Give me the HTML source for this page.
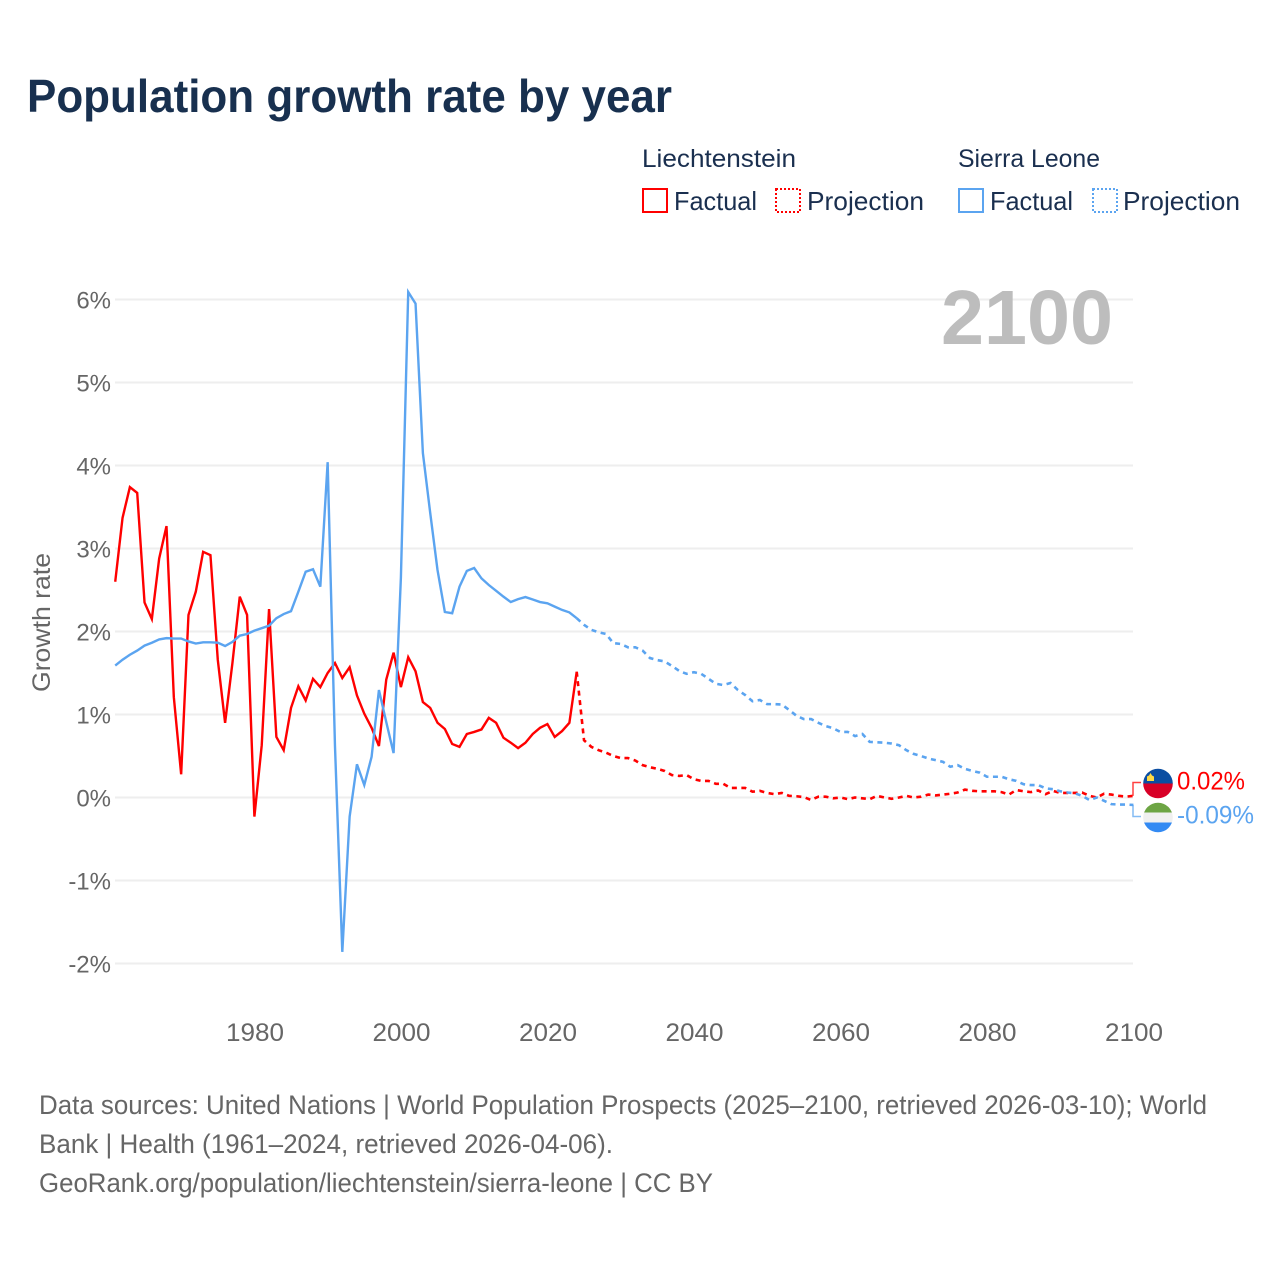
<!DOCTYPE html>
<html lang="en">
<head>
<meta charset="utf-8">
<title>Population growth rate by year</title>
<style>
  html, body { margin: 0; padding: 0; background: #fff; }
  svg { display: block; font-family: "Liberation Sans", sans-serif; }
</style>
</head>
<body>
<svg id="chart" width="1280" height="1280" viewBox="0 0 1280 1280" xmlns="http://www.w3.org/2000/svg">
  <rect x="0" y="0" width="1280" height="1280" fill="#ffffff"/>
  <text x="27" y="112" font-size="46" font-weight="700" fill="#18304f" textLength="645" lengthAdjust="spacingAndGlyphs">Population growth rate by year</text>

  <g>
    <text x="642" y="167" font-size="25" fill="#1a2f4f" textLength="154" lengthAdjust="spacingAndGlyphs">Liechtenstein</text>
    <rect x="643" y="189" width="24" height="23" fill="none" stroke="#ff0000" stroke-width="2"/>
    <text x="674" y="210" font-size="26" fill="#1a2f4f" textLength="83" lengthAdjust="spacingAndGlyphs">Factual</text>
    <rect x="776" y="189" width="24" height="23" fill="none" stroke="#ff0000" stroke-width="2" stroke-dasharray="2 2"/>
    <text x="807" y="210" font-size="26" fill="#1a2f4f" textLength="117" lengthAdjust="spacingAndGlyphs">Projection</text>

    <text x="958" y="167" font-size="25" fill="#1a2f4f" textLength="142" lengthAdjust="spacingAndGlyphs">Sierra Leone</text>
    <rect x="959" y="189" width="24" height="23" fill="none" stroke="#5ba4f0" stroke-width="2"/>
    <text x="990" y="210" font-size="26" fill="#1a2f4f" textLength="83" lengthAdjust="spacingAndGlyphs">Factual</text>
    <rect x="1093" y="189" width="24" height="23" fill="none" stroke="#5ba4f0" stroke-width="2" stroke-dasharray="2 2"/>
    <text x="1123" y="210" font-size="26" fill="#1a2f4f" textLength="117" lengthAdjust="spacingAndGlyphs">Projection</text>
  </g>

  <g id="grid"></g>
  <g id="y-ticks"></g>
  <g id="x-ticks"></g>

  <text transform="translate(50 622.5) rotate(-90)" text-anchor="middle" font-size="25" fill="#666666" textLength="139" lengthAdjust="spacingAndGlyphs">Growth rate</text>

  <text x="941" y="344" font-size="77" font-weight="700" fill="#bdbdbd" textLength="172" lengthAdjust="spacingAndGlyphs">2100</text>

  <g id="series"></g>
  <g id="end-labels"></g>

  <g font-size="27" fill="#666666">
    <text x="39" y="1114" textLength="1168" lengthAdjust="spacingAndGlyphs">Data sources: United Nations | World Population Prospects (2025–2100, retrieved 2026-03-10); World</text>
    <text x="39" y="1153" textLength="574" lengthAdjust="spacingAndGlyphs">Bank | Health (1961–2024, retrieved 2026-04-06).</text>
    <text x="39" y="1192" textLength="674" lengthAdjust="spacingAndGlyphs">GeoRank.org/population/liechtenstein/sierra-leone | CC BY</text>
  </g>
</svg>

<script>
var firstYear = 1961;
var xTickYears = [1980, 2000, 2020, 2040, 2060, 2080, 2100];
var yTickValues = [-2, -1, 0, 1, 2, 3, 4, 5, 6];

var liechtensteinFactual = [
  2.60, 3.37, 3.74, 3.67, 2.35, 2.15, 2.88, 3.27, 1.21, 0.28,
  2.20, 2.48, 2.96, 2.92, 1.66, 0.90, 1.62, 2.42, 2.20, -0.23,
  0.63, 2.27, 0.73, 0.57, 1.08, 1.34, 1.17, 1.43, 1.33, 1.50,
  1.62, 1.44, 1.57, 1.23, 1.01, 0.84, 0.62, 1.42, 1.745, 1.33,
  1.69, 1.52, 1.15, 1.08, 0.90, 0.825, 0.645, 0.61, 0.765, 0.79,
  0.82, 0.96, 0.90, 0.72, 0.66, 0.595, 0.66, 0.765, 0.84, 0.885,
  0.73, 0.80, 0.90, 1.515
];
var liechtensteinProjection = [
  1.515, 0.69, 0.61, 0.57, 0.54, 0.50, 0.475, 0.475, 0.445, 0.39,
  0.365, 0.345, 0.32, 0.27, 0.26, 0.27, 0.22, 0.20, 0.20, 0.165,
  0.165, 0.115, 0.115, 0.115, 0.07, 0.08, 0.055, 0.04, 0.055, 0.02,
  0.015, 0.005, -0.03, 0.01, 0.01, -0.01, 0.0, -0.02, 0.0, -0.01,
  -0.02, 0.02, 0.0, -0.015, 0.0, 0.02, 0.0, 0.01, 0.035, 0.025,
  0.035, 0.045, 0.06, 0.095, 0.08, 0.075, 0.075, 0.075, 0.065, 0.035,
  0.09, 0.075, 0.065, 0.085, 0.04, 0.08, 0.055, 0.055, 0.055, 0.06,
  0.02, 0.0, 0.045, 0.035, 0.02, 0.01, 0.02
];
var sierraLeoneFactual = [
  1.59, 1.66, 1.72, 1.77, 1.83, 1.865, 1.905, 1.92, 1.915, 1.915,
  1.88, 1.855, 1.87, 1.87, 1.865, 1.825, 1.875, 1.95, 1.97, 2.01,
  2.04, 2.07, 2.16, 2.21, 2.245, 2.48, 2.72, 2.75, 2.54, 4.04,
  0.62, -1.86, -0.23, 0.40, 0.15, 0.49, 1.295, 0.91, 0.535, 2.65,
  6.09, 5.95, 4.15, 3.43, 2.74, 2.235, 2.22, 2.54, 2.73, 2.765,
  2.64, 2.56, 2.49, 2.42, 2.355, 2.39, 2.415, 2.385, 2.355, 2.34,
  2.30, 2.26, 2.23, 2.16
];
var sierraLeoneProjection = [
  2.16, 2.08, 2.02, 1.99, 1.97, 1.86, 1.85, 1.81, 1.81, 1.77,
  1.68, 1.655, 1.64, 1.585, 1.525, 1.49, 1.51, 1.49, 1.43, 1.37,
  1.355, 1.38, 1.295, 1.235, 1.16, 1.175, 1.125, 1.125, 1.12, 1.055,
  0.985, 0.945, 0.945, 0.90, 0.86, 0.835, 0.79, 0.79, 0.74, 0.765,
  0.67, 0.665, 0.66, 0.65, 0.63, 0.57, 0.525, 0.50, 0.47, 0.45,
  0.43, 0.37, 0.39, 0.345, 0.32, 0.30, 0.25, 0.25, 0.25, 0.22,
  0.20, 0.16, 0.15, 0.15, 0.11, 0.10, 0.075, 0.06, 0.05, 0.02,
  -0.03, 0.0, -0.04, -0.08, -0.085, -0.085, -0.09
];
var projectionStartYear = 2024;
var liechtensteinEndLabel = "0.02%";
var sierraLeoneEndLabel = "-0.09%";

var NS = "http://www.w3.org/2000/svg";
function xScale(year) { return 254.4 + (year - 1980) * 7.325; }
function yScale(value) { return 797.5 - value * 83; }

function makeEl(tag, parent) {
  var el = document.createElementNS(NS, tag);
  parent.appendChild(el);
  return el;
}

function linePoints(values, startYear) {
  var pts = [];
  for (var i = 0; i < values.length; i++) {
    pts.push(xScale(startYear + i).toFixed(2) + "," + yScale(values[i]).toFixed(2));
  }
  return pts.join(" ");
}

var gridGroup = document.getElementById("grid");
var yTickGroup = document.getElementById("y-ticks");
var xTickGroup = document.getElementById("x-ticks");
var seriesGroup = document.getElementById("series");
var endGroup = document.getElementById("end-labels");

yTickValues.forEach(function (v) {
  var line = makeEl("line", gridGroup);
  
  
  line.setAttribute("x1", 115);
  line.setAttribute("x2", 1133);
  line.setAttribute("y1", yScale(v));
  line.setAttribute("y2", yScale(v));
  line.setAttribute("stroke", "#eeeeee");
  line.setAttribute("stroke-width", 2);

  var label = makeEl("text", yTickGroup);
  
  
  label.setAttribute("x", 111);
  label.setAttribute("y", yScale(v) + 9);
  label.setAttribute("text-anchor", "end");
  label.setAttribute("font-size", 24);
  label.setAttribute("fill", "#666666");
  label.textContent = v + "%";
});

xTickYears.forEach(function (year) {
  var label = makeEl("text", xTickGroup);
  
  
  label.setAttribute("x", xScale(year) + 0.6);
  label.setAttribute("y", 1041);
  label.setAttribute("text-anchor", "middle");
  label.setAttribute("font-size", 25);
  label.setAttribute("fill", "#666666");
  label.setAttribute("textLength", 58);
  label.setAttribute("lengthAdjust", "spacingAndGlyphs");
  label.textContent = year;
});

function drawSeries(values, startYear, color, dashed, name) {
  var line = makeEl("polyline", seriesGroup);
  
  
  line.setAttribute("points", linePoints(values, startYear));
  line.setAttribute("fill", "none");
  line.setAttribute("stroke", color);
  line.setAttribute("stroke-width", dashed ? 2.6 : 2.4);
  line.setAttribute("stroke-linejoin", "miter");
  if (dashed) { line.setAttribute("stroke-dasharray", "5 4.5"); }
}

drawSeries(liechtensteinProjection, projectionStartYear, "#ff0000", true, "liechtenstein-projection-line");
drawSeries(sierraLeoneProjection, projectionStartYear, "#5ba4f0", true, "sierra-leone-projection-line");
drawSeries(liechtensteinFactual, firstYear, "#ff0000", false, "liechtenstein-factual-line");
drawSeries(sierraLeoneFactual, firstYear, "#5ba4f0", false, "sierra-leone-factual-line");

function drawEndMarker(values, color, labelY, labelText, name) {
  var endX = 1133;
  var endY = yScale(values[values.length - 1]);
  var connector = makeEl("polyline", endGroup);
  
  
  connector.setAttribute("points", endX + "," + endY + " " + endX + "," + labelY + " " + (endX + 8) + "," + labelY);
  connector.setAttribute("fill", "none");
  connector.setAttribute("stroke", color);
  connector.setAttribute("stroke-width", 1.5);
  connector.setAttribute("stroke-opacity", 0.75);

  var label = makeEl("text", endGroup);
  
  
  label.setAttribute("x", 1177);
  label.setAttribute("y", labelY + 7);
  label.setAttribute("font-size", 25);
  label.setAttribute("fill", color);
  label.setAttribute("textLength", labelText.length > 5 ? 77 : 68);
  label.setAttribute("lengthAdjust", "spacingAndGlyphs");
  label.textContent = labelText;
}

drawEndMarker(liechtensteinProjection, "#ff0000", 782.5, liechtensteinEndLabel, "liechtenstein");
drawEndMarker(sierraLeoneProjection, "#5ba4f0", 816.5, sierraLeoneEndLabel, "sierra-leone");

function flagBand(parent, clipId, y, h, color, name) {
  var band = makeEl("rect", parent);
  
  
  band.setAttribute("x", 1143);
  band.setAttribute("y", y);
  band.setAttribute("width", 30);
  band.setAttribute("height", h);
  band.setAttribute("fill", color);
  band.setAttribute("clip-path", "url(#" + clipId + ")");
}

var defs = makeEl("defs", endGroup);
var clipA = makeEl("clipPath", defs);
clipA.setAttribute("id", "clip-li");
var circA = makeEl("circle", clipA);
circA.setAttribute("cx", 1158);
circA.setAttribute("cy", 783.5);
circA.setAttribute("r", 14.8);
var clipB = makeEl("clipPath", defs);
clipB.setAttribute("id", "clip-sl");
var circB = makeEl("circle", clipB);
circB.setAttribute("cx", 1158);
circB.setAttribute("cy", 817.5);
circB.setAttribute("r", 14.8);

var flagLi = makeEl("g", endGroup);


flagBand(flagLi, "clip-li", 768, 15.5, "#0b4ea2", "flag-band-blue");
flagBand(flagLi, "clip-li", 783.5, 16, "#d80027", "flag-band-red");
var crown = makeEl("path", flagLi);


crown.setAttribute("d", "M1147 781 L1147 776.5 L1149 775.5 L1150.5 773 L1152 775.5 L1154 776.5 L1154 781 Z");
crown.setAttribute("fill", "#ffda44");

var flagSl = makeEl("g", endGroup);


flagBand(flagSl, "clip-sl", 802, 10.5, "#6da544", "flag-band-green");
flagBand(flagSl, "clip-sl", 812.5, 10, "#f0f0f0", "flag-band-white");
flagBand(flagSl, "clip-sl", 822.5, 11, "#338af3", "flag-band-blue");
</script>
</body>
</html>
